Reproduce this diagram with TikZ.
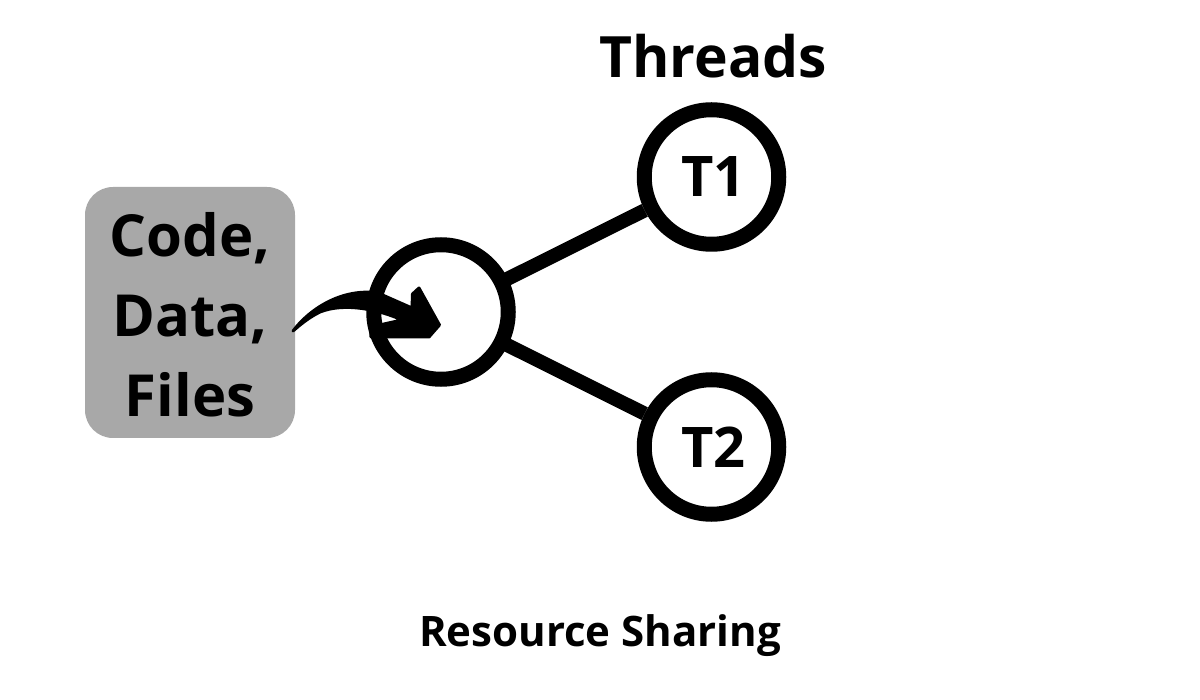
\documentclass[tikz,border=0pt]{standalone}
\usepackage{fontspec}
\setmainfont{Open Sans}
\tikzset{every picture/.style={line width=0.75pt}}
\tikzset{threadnode/.style={draw=black,line width=15pt,circle,fill=white,minimum size=134.5pt,inner sep=0pt,font=\fontsize{56pt}{60pt}\bfseries},
	link/.style={draw=black,line width=14pt}}
\begin{document}
\begin{tikzpicture}[x=1pt,y=1pt,yscale=-1,xscale=1]
	\useasboundingbox (0,0) rectangle (1200,700);
	% Links
	\coordinate (hub) at (441,312);
	\node [threadnode] (t1) at (711.5,177) {\raisebox{-3pt}{\hspace{4pt}T1}};
	\node [threadnode] (t2) at (711.5,447) {\raisebox{-3pt}{\hspace{4pt}T2}};
	\draw [link] (hub) -- (t1);
	\draw [link] (hub) -- (t2);
	% Hub
	\node [threadnode] (proc) at (441,312) {};
	% Box
	\node [fill=black!34,rounded corners=28pt,minimum width=210pt,minimum height=251pt] (res) at (190,312.5) {};
	% Text Node
	\node [align=center,inner sep=0pt,font=\fontsize{58pt}{80pt}\bfseries] (reslabel) at (190,315) {Code,\\Data,\\Files};
	\node [font=\fontsize{57pt}{60pt}\bfseries] (title) at (713,56) {Threads};
	\node [font=\fontsize{42pt}{46pt}\bfseries] (caption) at (600,636) {Resource Sharing};
	% Connection
	\coordinate (tail) at (293,331);
	\filldraw [line width=3pt,line join=round] (tail) .. controls (312,306) and (345,288) .. (378,293) -- (412,308) -- (412.5,294) -- (419,288) -- (439.5,325) -- (429,337) -- (371,337) -- (370.5,327) -- (402,320) .. controls (380,310) and (345,302) .. (320,312) .. controls (308,318) and (300,325) .. (293,331) -- cycle;
\end{tikzpicture}
\end{document}
